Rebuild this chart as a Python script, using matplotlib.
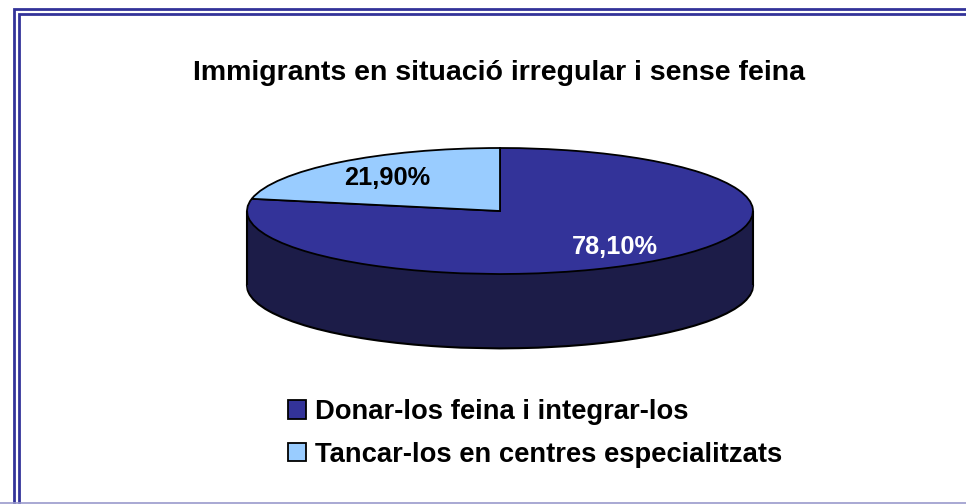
import numpy as np
import matplotlib
matplotlib.use("Agg")
import matplotlib.pyplot as plt
from matplotlib.patches import Rectangle

plt.rcParams['font.family'] = ['Liberation Sans', 'DejaVu Sans']

title = "Immigrants en situació irregular i sense feina"
labels = ["Donar-los feina i integrar-los", "Tancar-los en centres especialitzats"]
shares = [78.10, 21.90]
top_colors = ["#333399", "#99ccff"]
side_colors = ["#1c1c48", "#4d6680"]

W, H = 966, 504
fig = plt.figure(figsize=(W / 100, H / 100), dpi=100)
ax = fig.add_axes([0, 0, 1, 1])

# pixel geometry of the ellipse
cx, cy = 500, 211        # centre (from top)
rx, ry = 253, 63         # semi axes in px
thick = 1.18             # depth in ellipse-y units

start = 90 + shares[1] / 100 * 360   # light slice sits at 90..169 deg

# side: stack of pies going down
for t in np.linspace(thick, 0, 40):
    ec = "black" if t == thick else "none"
    lw = 1.5 if t == thick else 0
    ax.pie(shares, colors=side_colors, startangle=start, counterclock=True,
           center=(0, -t), radius=1, wedgeprops=dict(edgecolor=ec, linewidth=lw))
ax.vlines([-1, 1], -thick, 0, colors="black", linewidth=1.5)

wedges, _ = ax.pie(shares, colors=top_colors, startangle=start, counterclock=True,
                   center=(0, 0), radius=1,
                   wedgeprops=dict(edgecolor="black", linewidth=1.3))

ax.set_aspect("auto")
ax.set_xlim(-cx / rx, (W - cx) / rx)
ax.set_ylim(-(H - cy) / ry, cy / ry)
ax.axis("off")

# percentage labels
ax.text((615 - cx) / rx, (cy - 247) / ry, "78,10%", color="white",
        fontsize=18.3, fontweight="bold", ha="center", va="center")
ax.text((387 - cx) / rx, (cy - 178) / ry, "21,90%", color="black",
        fontsize=18.3, fontweight="bold", ha="center", va="center")

fig.text(499 / W, 1 - 73 / H, title, fontsize=20.5, fontweight="bold",
         ha="center", va="center")

leg = fig.legend(wedges, labels, loc="upper left",
                 bbox_to_anchor=(288 / W, 1 - 399 / H), frameon=False,
                 prop=dict(weight="bold", size=19.7),
                 handlelength=0.65, handleheight=0.65, handletextpad=0.35,
                 labelspacing=0.62, borderpad=0, borderaxespad=0)

# double blue frame
for x0, y0 in [(13.5, 9), (19, 14)]:
    fig.patches.append(Rectangle((x0 / W, -0.01), 1.1, 1 - y0 / H + 0.01,
                                 transform=fig.transFigure, fill=False,
                                 edgecolor="#333399", linewidth=2))
fig.patches.append(Rectangle((0, 1 / H), 1, 0, transform=fig.transFigure,
                             fill=False, edgecolor="#9999cc", linewidth=1.2))

fig.savefig("out.png", dpi=100)
